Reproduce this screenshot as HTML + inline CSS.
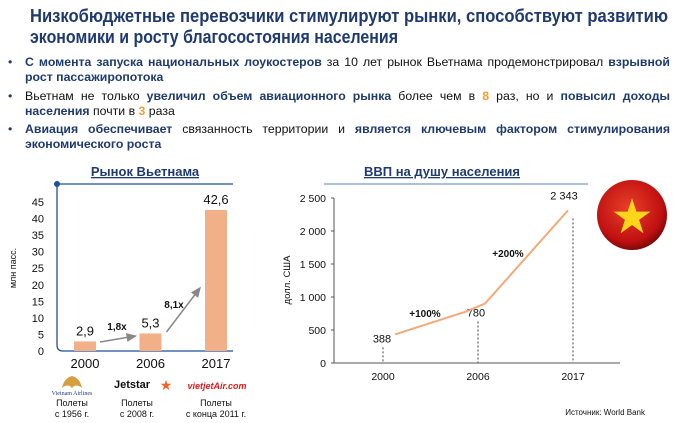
<!DOCTYPE html>
<html><head><meta charset="utf-8">
<style>
body{margin:0;width:680px;height:423px;background:#fff;overflow:hidden;position:relative;font-family:"Liberation Sans",sans-serif}
.b{position:absolute;left:25px;width:645px;font-size:12.3px;line-height:15px;text-align:justify;text-align-last:left;color:#111}
.b::before{content:"•";position:absolute;left:-17px;color:#1f3a6e}
.b b{color:#1f3a6e}
.o{color:#f0a030;font-weight:bold}
svg{position:absolute;left:0;top:0}
</style></head><body>
<svg width="680" height="50" style="position:absolute;left:0;top:0" font-family="Liberation Sans, sans-serif">
<text x="30" y="22" font-size="18" font-weight="bold" fill="#1f3a6e" textLength="638" lengthAdjust="spacingAndGlyphs">Низкобюджетные перевозчики стимулируют рынки, способствуют развитию</text>
<text x="30" y="43" font-size="18" font-weight="bold" fill="#1f3a6e" textLength="368" lengthAdjust="spacingAndGlyphs">экономики и росту благосостояния населения</text>
</svg>
<div class="b" style="top:55px"><b>С момента запуска национальных лоукостеров</b> за 10 лет рынок Вьетнама продемонстрировал <b>взрывной рост пассажиропотока</b></div>
<div class="b" style="top:89px">Вьетнам не только <b>увеличил объем авиационного рынка</b> более чем в <span class="o">8</span> раз, но и <b>повысил доходы населения</b> почти в <span class="o">3</span> раза</div>
<div class="b" style="top:122px"><b>Авиация обеспечивает</b> связанность территории и <b>является ключевым фактором стимулирования экономического роста</b></div>
<svg id="c" width="680" height="423" font-family="Liberation Sans, sans-serif"></svg>
<script>
const barYears=["2000","2006","2017"];
const barVals=[2.9,5.3,42.6];
const barTicks=[0,5,10,15,20,25,30,35,40,45];
const lineYears=["2000","2006","2017"];
const lineVals=[388,780,2343];
const lineTicks=[0,500,1000,1500,2000,2500];
const lineTickLabels=["0","500","1 000","1 500","2 000","2 500"];
const svg=document.getElementById('c');
const NS='http://www.w3.org/2000/svg';
function el(t,a,txt){const e=document.createElementNS(NS,t);for(const k in a)e.setAttribute(k,a[k]);if(txt!==undefined)e.textContent=txt;svg.appendChild(e);return e;}
svg.innerHTML='<defs><marker id="ar" markerWidth="8" markerHeight="8" refX="6" refY="3" orient="auto"><path d="M0,0L7,3L0,6z" fill="#888"/></marker><radialGradient id="fg" cx="45%" cy="40%" r="60%"><stop offset="0" stop-color="#e8402a"/><stop offset="0.8" stop-color="#c01010"/><stop offset="1" stop-color="#800808"/></radialGradient></defs>';
const bx=i=>85+i*65.5, by=v=>351-v*149/45;
let e;
e=el('text',{x:145,y:176,'font-size':13,'font-weight':'bold',fill:'#1f3a6e','text-anchor':'middle','text-decoration':'underline'},'Рынок Вьетнама');

e=el('path',{d:'M57,184H233M57,184V345Q57,351 63,351H233',stroke:'#1f4e9a','stroke-width':1.3,fill:'none'});

e=el('circle',{cx:57,cy:184,r:3,fill:'#1f4e9a'});

barTicks.forEach(t=>{e=el('text',{x:44,y:by(t)+4,'font-size':11,'text-anchor':'end',fill:'#111'},t);
});
e=el('text',{x:16,y:268,'font-size':9,'text-anchor':'middle',transform:'rotate(-90 16 268)',fill:'#111'},'млн пасс.');

barVals.forEach((v,i)=>{
e=el('rect',{x:bx(i)-11,y:by(v),width:22,height:by(0)-by(v),fill:'#f2b088'});

e=el('text',{x:bx(i),y:by(v)-6,'font-size':13,'text-anchor':'middle',fill:'#111'},String(v).replace('.',','));

e=el('text',{x:bx(i),y:368,'font-size':13,'text-anchor':'middle',fill:'#111'},barYears[i]);

});
e=el('line',{x1:bx(0)+15,y1:342,x2:bx(1)-15,y2:336,stroke:'#888','stroke-width':1.5,'marker-end':'url(#ar)'});

e=el('line',{x1:bx(1)+16,y1:332,x2:bx(2)-16,y2:288,stroke:'#888','stroke-width':1.5,'marker-end':'url(#ar)'});

e=el('text',{x:117,y:330,'font-size':10,'font-weight':'bold',fill:'#111','text-anchor':'middle'},'1,8x');

e=el('text',{x:174,y:308,'font-size':10,'font-weight':'bold',fill:'#111','text-anchor':'middle'},'8,1x');

e=el('text',{x:72,y:395,'font-size':6,fill:'#1f3a8a','text-anchor':'middle','font-family':'Liberation Serif, serif'},'Vietnam Airlines');

e=el('path',{d:'M62,388Q64,378 72,376Q80,378 82,388Q76,383 72,388Q68,383 62,388z',fill:'#d4a040'});

e=el('text',{x:132,y:388,'font-size':11,'font-weight':'bold',fill:'#111','text-anchor':'middle'},'Jetstar');

e=el('text',{x:166,y:390,'font-size':14,fill:'#f26522','text-anchor':'middle'},'★');

e=el('text',{x:217,y:389,'font-size':9,'font-weight':'bold','font-style':'italic',fill:'#e01a1a','text-anchor':'middle'},'vietjetAir.com');

[[72,'Полеты','с 1956 г.'],[137,'Полеты','с 2008 г.'],[216,'Полеты','с конца 2011 г.']].forEach(a=>{
e=el('text',{x:a[0],y:406,'font-size':9,fill:'#111','text-anchor':'middle'},a[1]);

e=el('text',{x:a[0],y:417,'font-size':9,fill:'#111','text-anchor':'middle'},a[2]);
});
const lx=i=>383+i*95, ly=v=>363-v*165/2500;
e=el('text',{x:442,y:176,'font-size':13,'font-weight':'bold',fill:'#1f3a6e','text-anchor':'middle','text-decoration':'underline'},'ВВП на душу населения');

e=el('line',{x1:324,y1:184,x2:588,y2:184,stroke:'#5a80b8','stroke-width':1});

e=el('path',{d:'M334,198V363H620',stroke:'#555','stroke-width':1,fill:'none'});

lineTicks.forEach((t,i)=>{
e=el('line',{x1:331,y1:ly(t),x2:334,y2:ly(t),stroke:'#555'});

e=el('text',{x:326,y:ly(t)+4,'font-size':10.5,'text-anchor':'end',fill:'#111'},lineTickLabels[i]);
});
e=el('text',{x:290,y:280,'font-size':9.5,'text-anchor':'middle',transform:'rotate(-90 290 280)',fill:'#111'},'долл. США');

lineVals.forEach((v,i)=>{
e=el('line',{x1:lx(i),y1:ly(v)+10,x2:lx(i),y2:363,stroke:'#444','stroke-dasharray':'2,2'});

e=el('text',{x:lx(i)+(i==0?-1:i==1?-2:-9),y:ly(v)+(i==2?-9:5),'font-size':11,'text-anchor':'middle',fill:'#111'},v.toLocaleString('ru-RU').replace(/\s/g,' '));

e=el('text',{x:lx(i),y:380,'font-size':10.5,'text-anchor':'middle',fill:'#111'},lineYears[i]);
});
e=el('polyline',{points:[[lx(0)+12,ly(lineVals[0])-3],[lx(1)-12,ly(lineVals[1])],[lx(1)+7,ly(lineVals[1])-8],[lx(2)-5,ly(lineVals[2])+2]].map(p=>p.join(',')).join(' '),stroke:'#f5a878','stroke-width':2,fill:'none'});

e=el('text',{x:425,y:317,'font-size':10,'font-weight':'bold',fill:'#111','text-anchor':'middle'},'+100%');

e=el('text',{x:508,y:257,'font-size':10,'font-weight':'bold',fill:'#111','text-anchor':'middle'},'+200%');

e=el('circle',{cx:632,cy:215,r:35,fill:'url(#fg)'});

e=el('text',{x:632,y:233,'font-size':48,fill:'#ffd51a','text-anchor':'middle'},'★');

e=el('text',{x:645,y:415,'font-size':8,fill:'#111','text-anchor':'end'},'Источник: World Bank');

</script>
</body></html>
